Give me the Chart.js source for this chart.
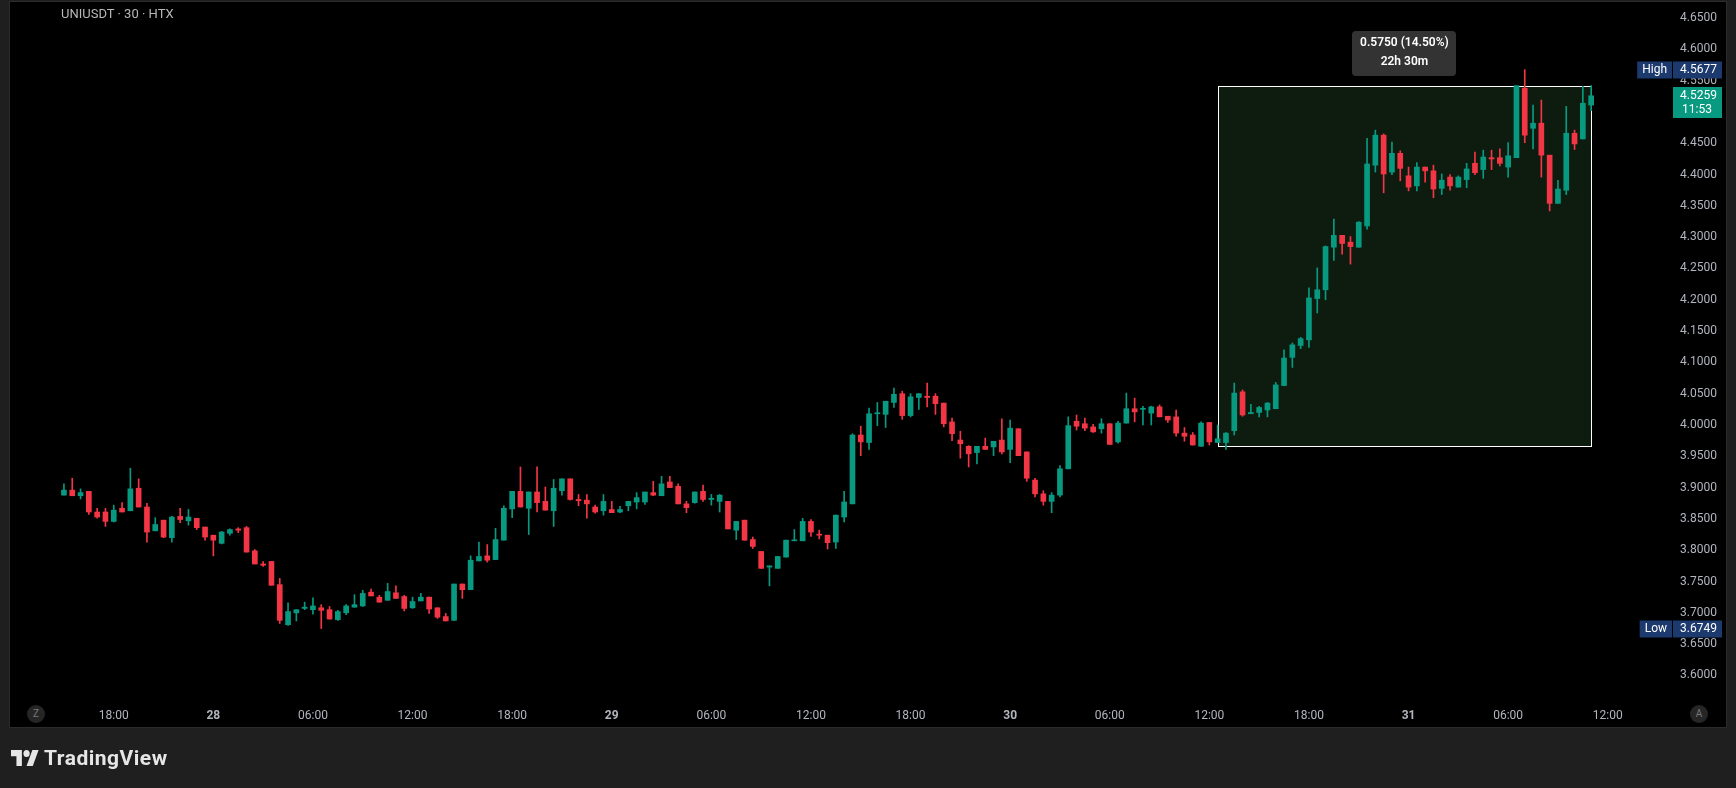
<!DOCTYPE html>
<html lang="en">
<head>
    <meta charset="UTF-8">
    <title>UNIUSDT · 30 · HTX</title>
    <script src="https://cdn.jsdelivr.net/npm/chart.js"></script>
    <style>
        html, body {
            margin: 0;
            padding: 0;
        }
        body {
            width: 1736px;
            height: 788px;
            background: #1f1f1f;
            overflow: hidden;
            position: relative;
            font-family: Roboto, "Noto Sans", sans-serif;
        }
        .pane {
            position: absolute;
            left: 9px;
            top: 1px;
            width: 1718px;
            height: 727px;
            box-sizing: border-box;
            border: 1px solid #2b2b2b;
            background: #000;
        }
        .chart-wrap {
            position: absolute;
            left: 0;
            top: 0;
            width: 1716px;
            height: 725px;
        }
        .title {
            position: absolute;
            left: 51px;
            top: 4px;
            color: #b8b8b8;
            font-size: 13px;
            line-height: 16px;
        }
        .circle-btn {
            position: absolute;
            width: 18px;
            height: 18px;
            border-radius: 50%;
            background: #262626;
            color: #7a7a7a;
            font-size: 10px;
            line-height: 18px;
            text-align: center;
        }
        .logo {
            position: absolute;
            left: 11px;
            top: 747px;
            height: 22px;
            display: flex;
            align-items: center;
            color: #e6e6e6;
        }
        .logo svg {
            width: 28px;
            height: 16px;
            margin-right: 5px;
        }
        .logo span {
            font-size: 21px;
            font-weight: bold;
            letter-spacing: 0.5px;
        }
    </style>
</head>
<body>
    <div class="pane">
        <div class="chart-wrap">
            <canvas id="chart"></canvas>
        </div>
        <div class="title">UNIUSDT · 30 · HTX</div>
        <div class="circle-btn" style="left:17px; top:703px;">Z</div>
        <div class="circle-btn" style="left:1680px; top:703px;">A</div>
    </div>
    <div class="logo">
        <svg viewBox="0 4 36 18" preserveAspectRatio="none">
            <path fill="#e6e6e6" d="M14 22H7V11H0V4h14v18zM28 22h-8l7.5-18h8L28 22z"/>
            <circle fill="#e6e6e6" cx="20" cy="8" r="4"/>
        </svg>
        <span>TradingView</span>
    </div>

    <script>
        // 30 minute candles, first one at 27 15:00, last one at 31 11:00
        const opens = [
            3.888, 3.896, 3.887, 3.894, 3.861, 3.861, 3.846, 3.867, 3.863, 3.899,
            3.869, 3.831, 3.848, 3.820, 3.854, 3.847, 3.851, 3.837, 3.824, 3.811,
            3.827, 3.834, 3.836, 3.799, 3.778, 3.782, 3.745, 3.681, 3.700, 3.707,
            3.705, 3.708, 3.705, 3.689, 3.700, 3.709, 3.711, 3.733, 3.725, 3.720,
            3.732, 3.726, 3.708, 3.719, 3.725, 3.708, 3.694, 3.688, 3.746, 3.737,
            3.783, 3.791, 3.785, 3.816, 3.866, 3.894, 3.867, 3.893, 3.878, 3.863,
            3.895, 3.914, 3.881, 3.880, 3.869, 3.863, 3.865, 3.861, 3.871, 3.877,
            3.877, 3.892, 3.887, 3.909, 3.902, 3.874, 3.876, 3.894, 3.881, 3.878,
            3.878, 3.832, 3.848, 3.817, 3.798, 3.773, 3.771, 3.789, 3.815, 3.815,
            3.846, 3.825, 3.824, 3.813, 3.853, 3.874, 3.984, 3.972, 4.018, 4.017,
            4.036, 4.050, 4.015, 4.044, 4.046, 4.046, 4.035, 4.005, 3.976, 3.966,
            3.956, 3.966, 3.965, 3.976, 3.961, 3.994, 3.957, 3.912, 3.890, 3.878,
            3.888, 3.930, 4.006, 4.002, 3.997, 3.994, 4.002, 3.973, 4.003, 4.026,
            4.025, 4.019, 4.029, 4.014, 4.013, 3.987, 3.984, 3.966, 4.004, 3.972,
            3.972, 3.991, 4.053, 4.018, 4.020, 4.024, 4.026, 4.063, 4.108, 4.127,
            4.136, 4.202, 4.216, 4.284, 4.303, 4.292, 4.284, 4.318, 4.415, 4.463,
            4.404, 4.434, 4.398, 4.382, 4.412, 4.406, 4.378, 4.396, 4.380, 4.392,
            4.418, 4.408, 4.427, 4.427, 4.412, 4.427, 4.538, 4.474, 4.482, 4.431,
            4.354, 4.375, 4.466, 4.457, 4.511
        ];
        const highs = [
            3.906, 3.915, 3.898, 3.894, 3.867, 3.867, 3.872, 3.876, 3.931, 3.914,
            3.875, 3.852, 3.848, 3.854, 3.867, 3.865, 3.851, 3.837, 3.824, 3.830,
            3.834, 3.836, 3.838, 3.801, 3.782, 3.782, 3.755, 3.716, 3.705, 3.717,
            3.724, 3.713, 3.710, 3.704, 3.713, 3.729, 3.736, 3.738, 3.728, 3.747,
            3.743, 3.728, 3.725, 3.731, 3.725, 3.708, 3.699, 3.746, 3.746, 3.791,
            3.813, 3.809, 3.835, 3.871, 3.894, 3.933, 3.893, 3.933, 3.901, 3.913,
            3.914, 3.914, 3.889, 3.889, 3.872, 3.889, 3.878, 3.870, 3.878, 3.892,
            3.893, 3.910, 3.918, 3.918, 3.906, 3.878, 3.893, 3.904, 3.889, 3.889,
            3.878, 3.846, 3.848, 3.821, 3.798, 3.775, 3.790, 3.816, 3.833, 3.851,
            3.849, 3.832, 3.824, 3.856, 3.894, 3.986, 3.998, 4.027, 4.036, 4.038,
            4.059, 4.054, 4.050, 4.050, 4.067, 4.050, 4.035, 4.011, 3.990, 3.967,
            3.966, 3.979, 3.974, 4.010, 4.008, 3.994, 3.957, 3.915, 3.895, 3.892,
            3.935, 4.013, 4.016, 4.011, 4.001, 4.010, 4.002, 4.006, 4.051, 4.043,
            4.030, 4.030, 4.032, 4.014, 4.024, 3.996, 3.988, 4.005, 4.004, 4.000,
            3.988, 4.067, 4.056, 4.033, 4.030, 4.036, 4.068, 4.120, 4.131, 4.140,
            4.219, 4.251, 4.286, 4.329, 4.303, 4.301, 4.325, 4.458, 4.471, 4.465,
            4.452, 4.438, 4.412, 4.419, 4.412, 4.415, 4.401, 4.400, 4.398, 4.418,
            4.436, 4.439, 4.439, 4.441, 4.451, 4.542, 4.5677, 4.511, 4.519, 4.431,
            4.391, 4.509, 4.471, 4.541, 4.542
        ];
        const lows = [
            3.888, 3.887, 3.882, 3.857, 3.851, 3.838, 3.845, 3.861, 3.863, 3.869,
            3.813, 3.831, 3.820, 3.813, 3.844, 3.840, 3.833, 3.816, 3.791, 3.810,
            3.824, 3.828, 3.797, 3.778, 3.774, 3.744, 3.683, 3.680, 3.687, 3.705,
            3.698, 3.6749, 3.690, 3.688, 3.697, 3.709, 3.710, 3.727, 3.717, 3.720,
            3.723, 3.703, 3.707, 3.719, 3.699, 3.691, 3.687, 3.688, 3.723, 3.737,
            3.783, 3.781, 3.785, 3.816, 3.852, 3.869, 3.825, 3.861, 3.864, 3.838,
            3.888, 3.880, 3.871, 3.851, 3.859, 3.856, 3.860, 3.860, 3.863, 3.866,
            3.873, 3.887, 3.887, 3.900, 3.874, 3.860, 3.875, 3.878, 3.872, 3.861,
            3.834, 3.817, 3.816, 3.803, 3.771, 3.743, 3.771, 3.789, 3.815, 3.815,
            3.822, 3.818, 3.802, 3.803, 3.845, 3.874, 3.951, 3.961, 3.999, 3.996,
            4.028, 4.009, 4.013, 4.025, 4.029, 4.017, 3.997, 3.975, 3.947, 3.933,
            3.938, 3.961, 3.951, 3.954, 3.940, 3.951, 3.910, 3.885, 3.872, 3.860,
            3.885, 3.930, 3.992, 3.991, 3.988, 3.987, 3.969, 3.971, 4.003, 4.005,
            4.000, 4.000, 4.013, 4.004, 3.982, 3.974, 3.968, 3.966, 3.968, 3.972,
            3.961, 3.984, 4.014, 4.018, 4.013, 4.013, 4.026, 4.063, 4.092, 4.122,
            4.124, 4.179, 4.200, 4.263, 4.273, 4.257, 4.284, 4.313, 4.404, 4.371,
            4.400, 4.390, 4.374, 4.374, 4.388, 4.363, 4.368, 4.375, 4.380, 4.379,
            4.400, 4.394, 4.408, 4.414, 4.396, 4.427, 4.451, 4.441, 4.396, 4.342,
            4.354, 4.368, 4.440, 4.457, 4.502
        ];
        const closes = [
            3.896, 3.887, 3.892, 3.861, 3.853, 3.846, 3.864, 3.861, 3.898, 3.869,
            3.829, 3.841, 3.821, 3.853, 3.849, 3.853, 3.836, 3.821, 3.816, 3.829,
            3.833, 3.832, 3.797, 3.778, 3.776, 3.744, 3.688, 3.702, 3.705, 3.709,
            3.711, 3.704, 3.690, 3.702, 3.711, 3.713, 3.731, 3.727, 3.717, 3.734,
            3.723, 3.707, 3.718, 3.725, 3.706, 3.693, 3.687, 3.746, 3.737, 3.784,
            3.790, 3.784, 3.817, 3.867, 3.894, 3.869, 3.893, 3.876, 3.864, 3.899,
            3.914, 3.881, 3.879, 3.874, 3.861, 3.878, 3.860, 3.865, 3.878, 3.884,
            3.893, 3.888, 3.906, 3.900, 3.874, 3.868, 3.893, 3.881, 3.883, 3.888,
            3.834, 3.846, 3.816, 3.806, 3.771, 3.775, 3.790, 3.816, 3.816, 3.846,
            3.829, 3.824, 3.812, 3.856, 3.877, 3.984, 3.973, 4.018, 4.019, 4.038,
            4.049, 4.015, 4.045, 4.050, 4.044, 4.034, 4.002, 3.986, 3.970, 3.954,
            3.966, 3.961, 3.974, 3.957, 3.995, 3.951, 3.915, 3.890, 3.878, 3.888,
            3.930, 3.999, 3.998, 3.995, 3.989, 4.002, 3.969, 4.003, 4.026, 4.021,
            4.026, 4.029, 4.013, 4.008, 3.987, 3.982, 3.968, 4.003, 3.973, 3.978,
            3.987, 4.051, 4.016, 4.020, 4.028, 4.035, 4.064, 4.107, 4.128, 4.138,
            4.203, 4.216, 4.285, 4.303, 4.290, 4.285, 4.324, 4.417, 4.463, 4.401,
            4.434, 4.410, 4.380, 4.412, 4.406, 4.377, 4.391, 4.382, 4.396, 4.409,
            4.403, 4.428, 4.425, 4.418, 4.430, 4.542, 4.463, 4.482, 4.431, 4.354,
            4.377, 4.466, 4.449, 4.514, 4.5259
        ];

        // Price scale and time scale labels
        const priceTicks = [
            3.60, 3.65, 3.70, 3.75, 3.80, 3.85, 3.90, 3.95, 4.00,
            4.05, 4.10, 4.15, 4.20, 4.25, 4.30, 4.35, 4.40, 4.45, 4.50, 4.55, 4.60, 4.65
        ];
        const timeTicks = [
            '18:00', '28', '06:00', '12:00', '18:00', '29', '06:00', '12:00',
            '18:00', '30', '06:00', '12:00', '18:00', '31', '06:00', '12:00'
        ];

        // Range measured by the box (bar indexes, prices)
        const measureFromBar = 139;
        const measureToBar = 184;
        const measureLow = 3.9659;
        const measureHigh = 4.5409;
        const barMinutes = 30;

        // Tags on the price scale
        const highValue = 4.5677;
        const lowValue = 3.6749;
        const lastValue = 4.5259;
        const countdown = '11:53';

        // Layout of the time slots
        const leadSlots = 6;       // empty slots left of first candle (27 12:00 .. 14:30)
        const slotCount = 200;
        const firstTickSlot = 12;  // 27 18:00
        const tickEvery = 12;      // every 6 hours
        const yMin = 3.5735;
        const yMax = 4.6757;

        const UP = '#089981';
        const DOWN = '#f23645';
        const TEXT = '#b2b5be';
        const FONT = 'Roboto, "Noto Sans", sans-serif';

        // Build slot based arrays for the bar datasets
        const slotLabels = [];
        const bodyData = [];
        const wickData = [];
        const candleColors = [];
        for (let s = 0; s < slotCount; s++) {
            slotLabels.push(String(s));
            const i = s - leadSlots;
            if (i >= 0 && i < opens.length) {
                bodyData.push([opens[i], closes[i]]);
                wickData.push([lows[i], highs[i]]);
                candleColors.push(closes[i] >= opens[i] ? UP : DOWN);
            } else {
                bodyData.push(null);
                wickData.push(null);
                candleColors.push('rgba(0,0,0,0)');
            }
        }

        function tickTextAt(index) {
            const k = index - firstTickSlot;
            if (k < 0 || k % tickEvery !== 0) return '';
            return timeTicks[k / tickEvery] || '';
        }

        function roundRect(ctx, x, y, w, h, r) {
            ctx.beginPath();
            ctx.moveTo(x + r, y);
            ctx.lineTo(x + w - r, y);
            ctx.quadraticCurveTo(x + w, y, x + w, y + r);
            ctx.lineTo(x + w, y + h - r);
            ctx.quadraticCurveTo(x + w, y + h, x + w - r, y + h);
            ctx.lineTo(x + r, y + h);
            ctx.quadraticCurveTo(x, y + h, x, y + h - r);
            ctx.lineTo(x, y + r);
            ctx.quadraticCurveTo(x, y, x + r, y);
            ctx.closePath();
        }

        // Price tag with an optional caption box on its left
        function priceTag(chart, value, bg, caption) {
            const { ctx } = chart;
            const yPix = chart.scales.y.getPixelForValue(value);
            const boxLeft = chart.width - 53;
            ctx.save();
            ctx.font = '12px ' + FONT;
            ctx.fillStyle = bg;
            ctx.fillRect(boxLeft, Math.round(yPix) - 8.5, 49, 17);
            if (caption) {
                const w = ctx.measureText(caption).width + 10;
                ctx.fillRect(boxLeft - 1 - w, Math.round(yPix) - 8.5, w, 17);
                ctx.fillStyle = '#ffffff';
                ctx.textAlign = 'center';
                ctx.textBaseline = 'middle';
                ctx.fillText(caption, boxLeft - 1 - w / 2, yPix + 0.5);
            }
            ctx.fillStyle = '#ffffff';
            ctx.textAlign = 'right';
            ctx.textBaseline = 'middle';
            ctx.fillText(value.toFixed(4), chart.width - 9, yPix + 0.5);
            ctx.restore();
        }

        const overlayPlugin = {
            id: 'overlay',
            beforeDatasetsDraw(chart) {
                const { ctx, scales: { x, y } } = chart;
                const left = Math.round(x.getPixelForValue(leadSlots + measureFromBar)) + 0.5;
                const right = Math.round(x.getPixelForValue(leadSlots + measureToBar)) + 0.5;
                const top = Math.round(y.getPixelForValue(measureHigh)) + 0.5;
                const bottom = Math.round(y.getPixelForValue(measureLow)) + 0.5;
                ctx.save();
                ctx.fillStyle = '#0e1c10';
                ctx.fillRect(left, top, right - left, bottom - top);
                ctx.strokeStyle = '#ffffff';
                ctx.lineWidth = 1;
                ctx.strokeRect(left, top, right - left, bottom - top);
                ctx.restore();
            },
            afterDraw(chart) {
                const { ctx, scales: { x, y } } = chart;
                // Measure label above the box
                const left = x.getPixelForValue(leadSlots + measureFromBar);
                const right = x.getPixelForValue(leadSlots + measureToBar);
                const top = y.getPixelForValue(measureHigh);
                const cx = (left + right) / 2;
                const diff = measureHigh - measureLow;
                const pct = diff / measureLow * 100;
                const minutes = (measureToBar - measureFromBar) * barMinutes;
                const line1 = diff.toFixed(4) + ' (' + pct.toFixed(2) + '%)';
                const line2 = Math.floor(minutes / 60) + 'h ' + (minutes % 60) + 'm';
                ctx.save();
                ctx.fillStyle = '#333333';
                roundRect(ctx, Math.round(cx - 52), Math.round(top - 55), 104, 45, 4);
                ctx.fill();
                ctx.fillStyle = '#ffffff';
                ctx.font = '600 12px ' + FONT;
                ctx.textAlign = 'center';
                ctx.textBaseline = 'middle';
                ctx.fillText(line1, cx, top - 43);
                ctx.fillText(line2, cx, top - 24);
                ctx.restore();

                // Price scale tags
                priceTag(chart, highValue, '#1c3a6e', 'High');
                priceTag(chart, lowValue, '#1c3a6e', 'Low');

                const yLast = y.getPixelForValue(lastValue);
                ctx.save();
                ctx.fillStyle = UP;
                ctx.fillRect(chart.width - 53, Math.round(yLast) - 9, 49, 31);
                ctx.fillStyle = '#ffffff';
                ctx.font = '12px ' + FONT;
                ctx.textAlign = 'right';
                ctx.textBaseline = 'middle';
                ctx.fillText(lastValue.toFixed(4), chart.width - 9, yLast + 0.5);
                ctx.fillText(countdown, chart.width - 14, yLast + 14);
                ctx.restore();
            }
        };

        const ctx = document.getElementById('chart').getContext('2d');
        const chart = new Chart(ctx, {
            type: 'bar',
            data: {
                labels: slotLabels,
                datasets: [
                    {
                        label: 'body',
                        data: bodyData,
                        backgroundColor: candleColors,
                        borderWidth: 0,
                        barThickness: 5,
                        minBarLength: 1,
                        grouped: false
                    },
                    {
                        label: 'wick',
                        data: wickData,
                        backgroundColor: candleColors,
                        borderWidth: 0,
                        barThickness: 1,
                        minBarLength: 1,
                        grouped: false
                    }
                ]
            },
            options: {
                responsive: true,
                maintainAspectRatio: false,
                animation: false,
                layout: { padding: { left: 0, right: 9, top: 0, bottom: 0 } },
                plugins: {
                    legend: { display: false },
                    tooltip: { enabled: false }
                },
                scales: {
                    x: {
                        type: 'category',
                        offset: true,
                        grid: { display: false, drawTicks: false },
                        border: { display: false },
                        ticks: {
                            autoSkip: false,
                            maxRotation: 0,
                            minRotation: 0,
                            padding: 17,
                            color: TEXT,
                            font: (c) => ({
                                family: FONT,
                                size: 12,
                                weight: /^\d+$/.test(tickTextAt(c.index)) ? 'bold' : 'normal'
                            }),
                            callback: (value, index) => tickTextAt(index)
                        },
                        afterFit: (scale) => {
                            scale.height = 35;
                            scale.paddingLeft = 0;
                            scale.paddingRight = 0;
                        }
                    },
                    y: {
                        type: 'linear',
                        position: 'right',
                        min: yMin,
                        max: yMax,
                        bounds: 'data',
                        grid: { display: false, drawTicks: false },
                        border: { display: false },
                        ticks: {
                            crossAlign: 'far',
                            padding: 0,
                            color: TEXT,
                            font: { family: FONT, size: 12 },
                            callback: (value) => Number(value).toFixed(4)
                        },
                        afterBuildTicks: (scale) => {
                            scale.ticks = priceTicks.map(v => ({ value: v }));
                        },
                        afterFit: (scale) => {
                            scale.width = 47;
                            scale.paddingTop = 0;
                            scale.paddingBottom = 0;
                        }
                    }
                }
            },
            plugins: [overlayPlugin]
        });
    </script>
</body>
</html>
